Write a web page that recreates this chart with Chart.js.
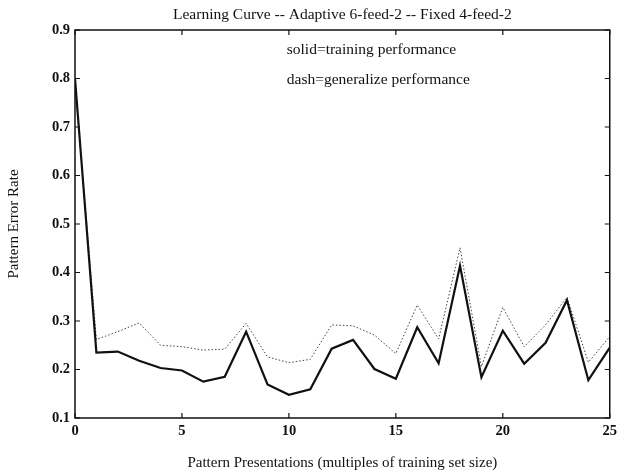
<!DOCTYPE html>
<html>
<head>
<meta charset="utf-8">
<script src="https://cdn.jsdelivr.net/npm/chart.js@4/dist/chart.umd.min.js"></script>
<style>
  html, body { margin: 0; padding: 0; background: #fff; }
  #wrap { width: 622px; height: 475px; position: relative; }
</style>
</head>
<body>
<div id="wrap"><canvas id="c" width="622" height="475"></canvas></div>
<script>
// ---- data ----
const presentations = [0,1,2,3,4,5,6,7,8,9,10,11,12,13,14,15,16,17,18,19,20,21,22,23,24,25];
const trainingError = [0.80,0.235,0.237,0.218,0.203,0.198,0.175,0.185,0.278,0.169,0.148,0.159,0.243,0.261,0.201,0.181,0.287,0.213,0.414,0.184,0.280,0.212,0.255,0.343,0.178,0.245];
const generalizeError = [0.79,0.262,0.278,0.296,0.250,0.247,0.240,0.242,0.295,0.226,0.214,0.221,0.292,0.290,0.271,0.233,0.333,0.263,0.451,0.206,0.328,0.247,0.292,0.349,0.215,0.268];
const xTicks = [0,5,10,15,20,25];
const yTicks = [0.1,0.2,0.3,0.4,0.5,0.6,0.7,0.8,0.9];
const titleText = "Learning Curve -- Adaptive 6-feed-2 -- Fixed 4-feed-2";
const xTitle = "Pattern Presentations (multiples of training set size)";
const yTitle = "Pattern Error Rate";
const notes = ["solid=training performance", "dash=generalize performance"];
const notePos = [[9.9, 0.859], [9.9, 0.797]];

const SERIF = "'Liberation Serif', 'Times New Roman', serif";

const frameAndTicks = {
  id: 'frameAndTicks',
  afterDatasetsDraw(chart) {
    const {ctx, chartArea: a, scales: {x, y}} = chart;
    ctx.save();
    ctx.strokeStyle = '#111';
    ctx.lineWidth = 1.5;
    ctx.strokeRect(a.left, a.top, a.right - a.left, a.bottom - a.top);
    ctx.lineWidth = 1.2;
    const L = 5;
    ctx.beginPath();
    xTicks.forEach(v => {
      const px = x.getPixelForValue(v);
      ctx.moveTo(px, a.bottom); ctx.lineTo(px, a.bottom - L);
      ctx.moveTo(px, a.top); ctx.lineTo(px, a.top + L);
    });
    yTicks.forEach(v => {
      const py = y.getPixelForValue(v);
      ctx.moveTo(a.left, py); ctx.lineTo(a.left + L, py);
      ctx.moveTo(a.right, py); ctx.lineTo(a.right - L, py);
    });
    ctx.stroke();
    ctx.fillStyle = '#111';
    ctx.font = "15.5px " + SERIF;
    ctx.textAlign = 'left';
    ctx.textBaseline = 'middle';
    notes.forEach((t, i) => {
      ctx.fillText(t, x.getPixelForValue(notePos[i][0]), y.getPixelForValue(notePos[i][1]));
    });
    ctx.restore();
  }
};

new Chart(document.getElementById('c'), {
  type: 'line',
  data: {
    datasets: [
      {
        label: 'training',
        data: presentations.map((p, i) => ({x: p, y: trainingError[i]})),
        borderColor: '#111',
        borderWidth: 2.2,
        pointRadius: 0,
        tension: 0,
        fill: false
      },
      {
        label: 'generalize',
        data: presentations.map((p, i) => ({x: p, y: generalizeError[i]})),
        borderColor: '#444',
        borderWidth: 1,
        borderDash: [1.5, 2],
        pointRadius: 0,
        tension: 0,
        fill: false
      }
    ]
  },
  options: {
    responsive: false,
    animation: false,
    layout: { padding: { left: 0, right: 9, top: 0, bottom: 0 } },
    plugins: {
      legend: { display: false },
      tooltip: { enabled: false },
      title: {
        display: true,
        fullSize: false,
        text: titleText,
        color: '#111',
        font: { family: SERIF, size: 15.5, weight: 'normal' },
        padding: { top: 5.5, bottom: 5.9 }
      }
    },
    scales: {
      x: {
        type: 'linear',
        min: 0, max: 25,
        afterBuildTicks(s) { s.ticks = xTicks.map(v => ({value: v})); },
        afterFit(s) { s.height = 57; },
        grid: { display: false, drawTicks: false },
        border: { display: false },
        ticks: {
          color: '#111',
          padding: 5,
          maxRotation: 0,
          font: { family: SERIF, size: 14.5, weight: 'bold' },
          callback: v => String(v)
        },
        title: {
          display: true,
          text: xTitle,
          color: '#111',
          font: { family: SERIF, size: 15, weight: 'normal' },
          padding: { top: 0, bottom: 3 }
        }
      },
      y: {
        type: 'linear',
        min: 0.1, max: 0.9,
        afterBuildTicks(s) { s.ticks = yTicks.map(v => ({value: v})); },
        afterFit(s) { s.width = 75; },
        grid: { display: false, drawTicks: false },
        border: { display: false },
        ticks: {
          color: '#111',
          padding: 5,
          font: { family: SERIF, size: 14.5, weight: 'bold' },
          callback: v => v.toFixed(1)
        },
        title: {
          display: true,
          text: yTitle,
          color: '#111',
          font: { family: SERIF, size: 15, weight: 'normal' },
          padding: { top: 5, bottom: 0 }
        }
      }
    }
  },
  plugins: [frameAndTicks]
});
</script>
</body>
</html>
